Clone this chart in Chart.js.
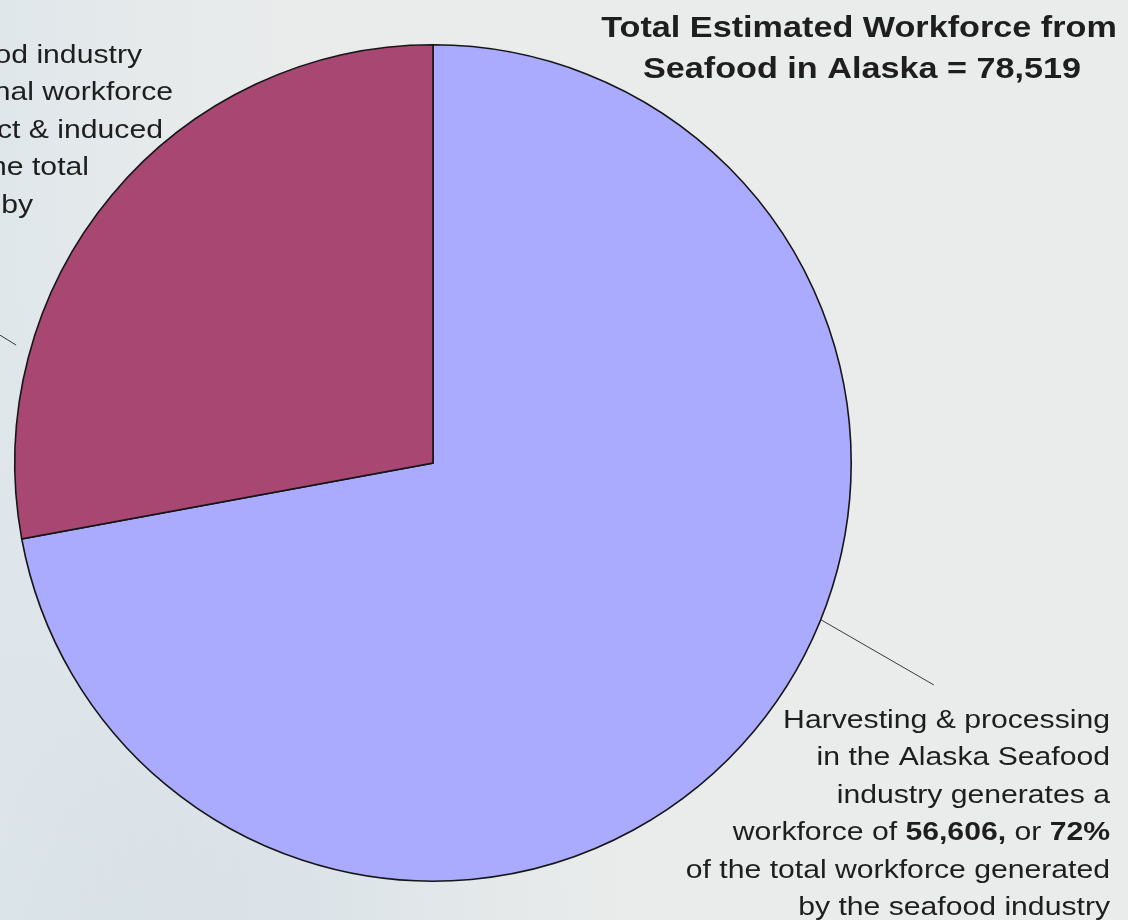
<!DOCTYPE html>
<html>
<head>
<meta charset="utf-8">
<title>Total Estimated Workforce from Seafood in Alaska</title>
<script src="https://cdn.jsdelivr.net/npm/chart.js@4.4.1/dist/chart.umd.min.js"></script>
<style>
  html, body { margin: 0; padding: 0; background: #eaeceb; }
  #wrap { width: 1128px; height: 920px; overflow: hidden; }
  canvas { display: block; }
</style>
</head>
<body>
<div id="wrap"><canvas id="pie" width="1128" height="920"></canvas></div>
<script>
// Workforce generated by the Alaska seafood industry
const categories = ['Harvesting & processing', 'Indirect & induced'];
const workforce = [56606, 21913];
const sliceColors = ['#aaaaff', '#a84872'];

const total = workforce.reduce((a, b) => a + b, 0);
const fmt = n => n.toLocaleString('en-US');
const pct = n => Math.round(n / total * 100) + '%';

const FONT = '"Liberation Sans", Arial, Helvetica, sans-serif';
const INK = '#1e1e1e';

// Paint the soft grey-blue backdrop behind the pie
const backdrop = {
  id: 'backdrop',
  beforeDraw(chart) {
    const { ctx, width, height } = chart;
    ctx.save();
    ctx.fillStyle = '#eaeceb';
    ctx.fillRect(0, 0, width, height);
    let g = ctx.createRadialGradient(0, height, 0, 0, height, 720);
    g.addColorStop(0, 'rgba(196,211,222,1)');
    g.addColorStop(0.45, 'rgba(214,224,231,0.85)');
    g.addColorStop(1, 'rgba(234,236,235,0)');
    ctx.fillStyle = g;
    ctx.fillRect(0, 0, width, height);
    g = ctx.createLinearGradient(0, 0, 420, 0);
    g.addColorStop(0, 'rgba(222,230,235,0.9)');
    g.addColorStop(1, 'rgba(234,236,235,0)');
    ctx.fillStyle = g;
    ctx.fillRect(0, 0, 420, height);
    ctx.restore();
  }
};

// One line of text built from plain/bold runs, right-aligned at xr
function runLine(ctx, runs, xr, y, size, sx) {
  const w = runs.map(r => {
    ctx.font = (r.b ? 'bold ' : '') + size + 'px ' + FONT;
    return ctx.measureText(r.t).width;
  });
  const tw = w.reduce((a, b) => a + b, 0);
  ctx.save();
  ctx.translate(xr, y);
  ctx.scale(sx, 1);
  let x = -tw;
  runs.forEach((r, i) => {
    ctx.font = (r.b ? 'bold ' : '') + size + 'px ' + FONT;
    ctx.fillText(r.t, x, 0);
    x += w[i];
  });
  ctx.restore();
}

function centerLine(ctx, text, xc, y, font, sx) {
  ctx.save();
  ctx.font = font;
  ctx.translate(xc, y);
  ctx.scale(sx, 1);
  ctx.textAlign = 'center';
  ctx.fillText(text, 0, 0);
  ctx.restore();
}

// Title, callout text and leader lines
const callouts = {
  id: 'callouts',
  afterDraw(chart) {
    const { ctx } = chart;
    const arc = chart.getDatasetMeta(0).data[0];
    const cx = arc.x, cy = arc.y, R = arc.outerRadius;
    const polar = (deg, k) => {
      const a = deg * Math.PI / 180;
      return [cx + R * k * Math.sin(a), cy - R * k * Math.cos(a)];
    };
    ctx.save();
    ctx.fillStyle = INK;
    ctx.textBaseline = 'alphabetic';

    // Heading
    const hf = 'bold 30px ' + FONT;
    centerLine(ctx, 'Total Estimated Workforce from', 859, 37, hf, 1.14);
    centerLine(ctx, 'Seafood in Alaska = ' + fmt(total), 862, 78, hf, 1.14);

    // Leader lines
    ctx.strokeStyle = '#3a3a3a';
    ctx.lineWidth = 1;
    [[polar(112, 1.0), polar(113.9, 1.31)],
     [polar(285.8, 1.036), polar(288, 1.2)]].forEach(([p, q]) => {
      ctx.beginPath();
      ctx.moveTo(p[0], p[1]);
      ctx.lineTo(q[0], q[1]);
      ctx.stroke();
    });

    // Harvesting & processing callout
    const size = 26, sx = 1.16, lh = 37.4;
    const right = [
      [{ t: 'Harvesting & processing' }],
      [{ t: 'in the Alaska Seafood' }],
      [{ t: 'industry generates a' }],
      [{ t: 'workforce of ' }, { t: fmt(workforce[0]) + ',', b: true }, { t: ' or ' }, { t: pct(workforce[0]), b: true }],
      [{ t: 'of the total workforce generated' }],
      [{ t: 'by the seafood industry' }]
    ];
    right.forEach((runs, i) => runLine(ctx, runs, 1110, 728 + i * lh, size, sx));

    // Indirect & induced callout (runs off the left edge)
    const left = [
      ['The Alaska seafood industry', 142],
      ['generates an additional workforce', 173],
      ['through indirect & induced', 163],
      ['effects of ' + fmt(workforce[1]) + ', or ' + pct(workforce[1]) + ' of the total', 89],
      ['workforce generated by', 33]
    ];
    left.forEach(([t, xr], i) => runLine(ctx, [{ t }], xr, 63 + i * lh, size, sx));

    ctx.restore();
  }
};

new Chart(document.getElementById('pie'), {
  type: 'pie',
  data: {
    labels: categories,
    datasets: [{
      data: workforce,
      backgroundColor: sliceColors,
      borderColor: '#161616',
      borderWidth: 1.6,
      borderJoinStyle: 'miter',
      hoverOffset: 0
    }]
  },
  options: {
    responsive: false,
    animation: false,
    events: [],
    layout: { padding: { left: 14, top: 44, right: 276, bottom: 38 } },
    plugins: {
      legend: { display: false },
      tooltip: { enabled: false },
      title: { display: false }
    }
  },
  plugins: [backdrop, callouts]
});
</script>
</body>
</html>
